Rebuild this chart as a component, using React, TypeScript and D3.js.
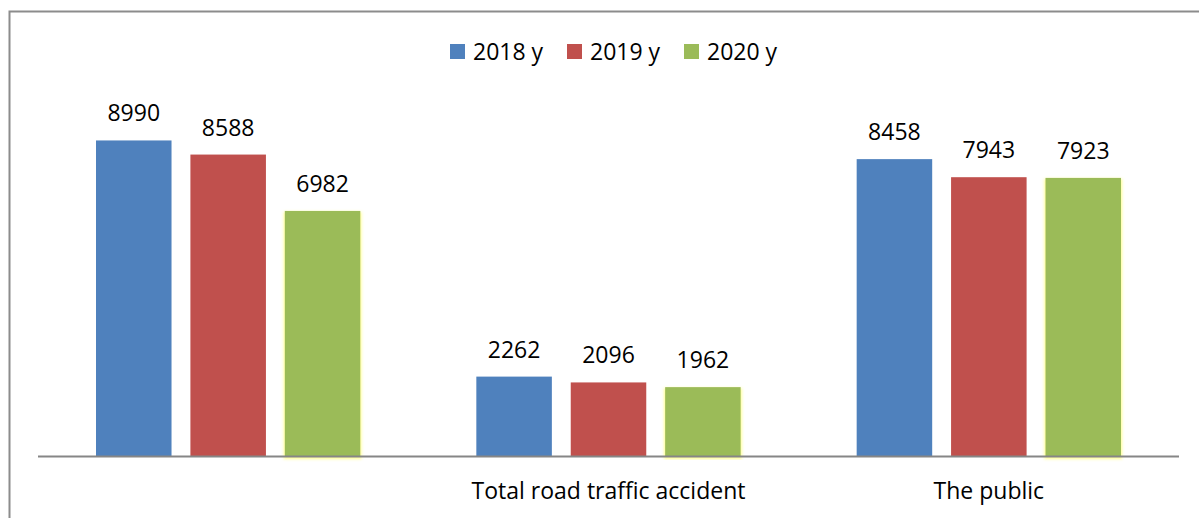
import { useEffect, useRef } from 'react';
import * as d3 from 'd3';

const categories = ['', 'Total road traffic accident', 'The public'];
const seriesNames = ['2018 y', '2019 y', '2020 y'];
const colors = ['#4f81bd', '#c0504d', '#9bbb59'];
const values2018 = [8990, 2262, 8458];
const values2019 = [8588, 2096, 7943];
const values2020 = [6982, 1962, 7923];

const width = 1199;
const height = 518;
const margin = { top: 105, right: 20, bottom: 62, left: 38 };
const FONT = "'Open Sans', 'Noto Sans', sans-serif";

export default function App() {
  const svgRef = useRef<SVGSVGElement>(null);

  useEffect(() => {
    const svg = d3.select(svgRef.current);
    svg.selectAll('*').remove();

    const series = [values2018, values2019, values2020];
    const innerW = width - margin.left - margin.right;
    const innerH = height - margin.top - margin.bottom;

    // soft yellow glow behind the green bars
    const defs = svg.append('defs');
    const f = defs.append('filter').attr('id', 'glow').attr('x', '-10%').attr('y', '-5%').attr('width', '120%').attr('height', '110%');
    f.append('feMorphology').attr('in', 'SourceAlpha').attr('operator', 'dilate').attr('radius', 1).attr('result', 'd');
    f.append('feGaussianBlur').attr('in', 'd').attr('stdDeviation', 1.5).attr('result', 'b');
    f.append('feOffset').attr('in', 'b').attr('dy', 1.5).attr('result', 'o');
    f.append('feFlood').attr('flood-color', '#ffff30').attr('flood-opacity', 0.55);
    f.append('feComposite').attr('in2', 'o').attr('operator', 'in').attr('result', 'g');
    const m = f.append('feMerge');
    m.append('feMergeNode').attr('in', 'g');
    m.append('feMergeNode').attr('in', 'SourceGraphic');

    // outer frame
    svg.append('rect')
      .attr('x', 9.5).attr('y', 11.5)
      .attr('width', width + 10).attr('height', height + 10)
      .attr('fill', 'white').attr('stroke', '#8c8c8c').attr('stroke-width', 2);

    const g = svg.append('g').attr('transform', `translate(${margin.left},${margin.top})`);

    const x0 = d3.scaleBand().domain(categories.map((_, i) => String(i))).range([0, innerW]).paddingInner(0).paddingOuter(0);
    const x1 = d3.scaleBand().domain(seriesNames).range([58, x0.bandwidth() - 58]).paddingInner(0.2);
    const y = d3.scaleLinear().domain([0, 10000]).range([innerH, 0]);

    categories.forEach((cat, ci) => {
      const gg = g.append('g').attr('transform', `translate(${x0(String(ci))},0)`);
      seriesNames.forEach((s, si) => {
        const v = series[si][ci];
        gg.append('rect')
          .attr('x', x1(s)!)
          .attr('y', y(v))
          .attr('width', x1.bandwidth())
          .attr('height', innerH - y(v))
          .attr('fill', colors[si])
          .attr('filter', si === 2 ? 'url(#glow)' : null);
        gg.append('text')
          .attr('x', x1(s)! + x1.bandwidth() / 2)
          .attr('y', y(v) - 19)
          .attr('text-anchor', 'middle')
          .style('font-family', FONT)
          .style('font-size', '23px')
          .attr('fill', '#000')
          .text(v);
      });
      gg.append('text')
        .attr('x', x0.bandwidth() / 2)
        .attr('y', innerH + 43)
        .attr('text-anchor', 'middle')
        .style('font-family', FONT)
        .style('font-size', '23px')
        .attr('fill', '#000')
        .text(cat);
    });

    // axis line
    g.append('line')
      .attr('x1', 0).attr('x2', innerW)
      .attr('y1', innerH + 0.5).attr('y2', innerH + 0.5)
      .attr('stroke', '#868686').attr('stroke-width', 2);

    // legend
    const legendX = [450, 567, 684];
    const legend = svg.append('g');
    seriesNames.forEach((s, i) => {
      legend.append('rect')
        .attr('x', legendX[i]).attr('y', 44)
        .attr('width', 15).attr('height', 15)
        .attr('fill', colors[i]);
      legend.append('text')
        .attr('x', legendX[i] + 23).attr('y', 60)
        .style('font-family', FONT)
        .style('font-size', '23px')
        .attr('fill', '#000')
        .text(s);
    });
  }, []);

  return (
    <svg ref={svgRef} width={width} height={height}
      style={{ position: 'absolute', left: 0, top: 0, display: 'block' }} />
  );
}
